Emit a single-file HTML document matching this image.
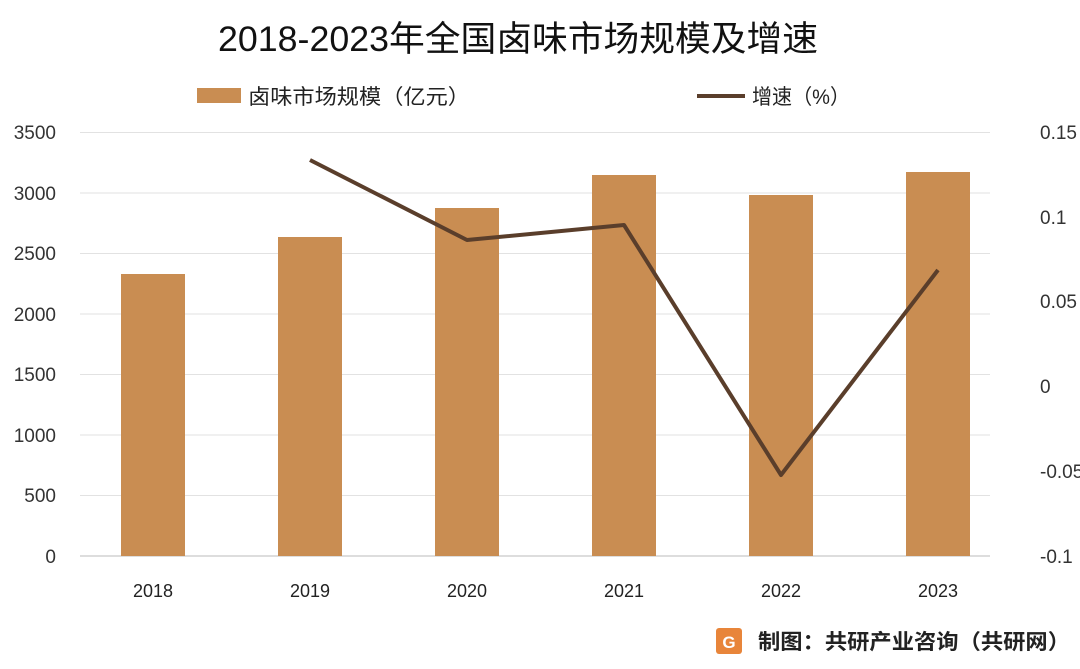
<!DOCTYPE html>
<html><head><meta charset="utf-8"><style>
body{margin:0;background:#fff;}
svg text{font-family:"Liberation Sans","Noto Sans CJK SC",sans-serif;}
</style></head><body>
<svg width="1080" height="664" viewBox="0 0 1080 664" xmlns="http://www.w3.org/2000/svg">
<rect width="1080" height="664" fill="#fff"/>
<text x="518" y="51" text-anchor="middle" font-size="35" fill="#111" textLength="600" lengthAdjust="spacingAndGlyphs">2018-2023年全国卤味市场规模及增速</text>
<rect x="197" y="88" width="44" height="15" fill="#C98D52"/>
<text x="248" y="104" font-size="21" fill="#222" textLength="222" lengthAdjust="spacingAndGlyphs">卤味市场规模（亿元）</text>
<line x1="697" y1="96" x2="745" y2="96" stroke="#5a3e2b" stroke-width="4"/>
<text x="752" y="104" font-size="21" fill="#222" textLength="98" lengthAdjust="spacingAndGlyphs">增速（%）</text>
<g stroke="#e2e2e2" stroke-width="1">
<line x1="80" y1="132.5" x2="990" y2="132.5"/>
<line x1="80" y1="193" x2="990" y2="193"/>
<line x1="80" y1="253.5" x2="990" y2="253.5"/>
<line x1="80" y1="314" x2="990" y2="314"/>
<line x1="80" y1="374.5" x2="990" y2="374.5"/>
<line x1="80" y1="435" x2="990" y2="435"/>
<line x1="80" y1="495.5" x2="990" y2="495.5"/>
</g>
<line x1="80" y1="556" x2="990" y2="556" stroke="#bbb" stroke-width="1"/>
<g font-size="19" fill="#333" text-anchor="end">
<text x="56" y="139">3500</text><text x="56" y="200">3000</text><text x="56" y="260">2500</text>
<text x="56" y="321">2000</text><text x="56" y="381">1500</text><text x="56" y="442">1000</text>
<text x="56" y="502">500</text><text x="56" y="563">0</text>
</g>
<g font-size="19" fill="#333">
<text x="1040" y="139">0.15</text><text x="1040" y="224">0.1</text><text x="1040" y="308">0.05</text>
<text x="1040" y="393">0</text><text x="1040" y="478">-0.05</text><text x="1040" y="563">-0.1</text>
</g>
<g fill="#C98D52">
<rect x="121" y="274" width="64" height="282"/>
<rect x="278" y="237" width="64" height="319"/>
<rect x="435" y="208" width="64" height="348"/>
<rect x="592" y="175" width="64" height="381"/>
<rect x="749" y="195" width="64" height="361"/>
<rect x="906" y="172" width="64" height="384"/>
</g>
<polyline points="310,160 467,240 624,225 781,475 938,270" fill="none" stroke="#5a3e2b" stroke-width="4" stroke-linejoin="round"/>
<g font-size="18" fill="#222" text-anchor="middle">
<text x="153" y="597">2018</text><text x="310" y="597">2019</text><text x="467" y="597">2020</text>
<text x="624" y="597">2021</text><text x="781" y="597">2022</text><text x="938" y="597">2023</text>
</g>
<rect x="716" y="628" width="26" height="26" rx="3" fill="#E8853A"/>
<text x="729" y="648" font-size="17" fill="#fff" text-anchor="middle" font-weight="bold">G</text>
<text x="758" y="649" font-size="21" fill="#222" font-weight="bold" textLength="312" lengthAdjust="spacingAndGlyphs">制图：共研产业咨询（共研网）</text>
</svg>
</body></html>
